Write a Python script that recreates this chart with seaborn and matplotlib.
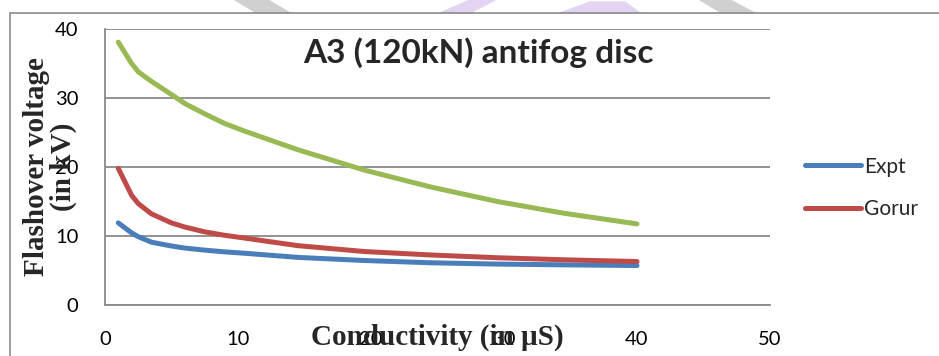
import matplotlib
matplotlib.use("Agg")
import matplotlib.pyplot as plt
from matplotlib.patches import Rectangle, Polygon
import seaborn as sns
import pandas as pd

# Conductivity (µS) and flashover voltages (kV)
conductivity = [1, 2, 2.5, 3.5, 5, 6, 7.5, 9, 10.5, 14.5, 19.5, 24.5, 29.5, 34.5, 40]
expt_kv = [11.9, 10.45, 9.9, 9.1, 8.55, 8.25, 7.95, 7.7, 7.5, 6.9, 6.45, 6.12, 5.93, 5.82, 5.72]
gorur_kv = [19.8, 15.9, 14.7, 13.2, 11.9, 11.3, 10.6, 10.1, 9.7, 8.6, 7.75, 7.25, 6.85, 6.55, 6.3]
model_kv = [38.1, 35.0, 33.8, 32.4, 30.5, 29.2, 27.7, 26.3, 25.2, 22.5, 19.55, 17.1, 15.0, 13.3, 11.75]

series_names = ["Expt", "Gorur"]
x_ticks = [0, 10, 20, 30, 40, 50]
y_ticks = [0, 10, 20, 30, 40]

df = pd.DataFrame({
    "Conductivity": conductivity * 2,
    "Voltage": expt_kv + gorur_kv,
    "Series": [series_names[0]] * len(conductivity) + [series_names[1]] * len(conductivity),
})
df_model = pd.DataFrame({"Conductivity": conductivity, "Voltage": model_kv})

sns.set_style("white")
plt.rcParams["font.family"] = ["Lato", "DejaVu Sans"]

GRID = "#8a8a8a"
fig = plt.figure(figsize=(9.39, 3.56), dpi=100)
ax = fig.add_axes([105 / 939, 1 - 305 / 356, 665 / 939, 276 / 356])

palette = {"Expt": "#4A7EBB", "Gorur": "#BE4B48"}
sns.lineplot(data=df_model, x="Conductivity", y="Voltage", color="#98B954",
             lw=3.6, ax=ax, legend=False, solid_capstyle="round", solid_joinstyle="round")
sns.lineplot(data=df, x="Conductivity", y="Voltage", hue="Series", palette=palette,
             lw=3.6, ax=ax, solid_capstyle="round", solid_joinstyle="round")

ax.set_xlim(0, 50)
ax.set_ylim(0, 40)
ax.set_xticks(x_ticks)
ax.set_yticks(y_ticks)
ax.grid(axis="y", color=GRID, lw=1.3)
ax.set_axisbelow(True)
for side in ["top", "right"]:
    ax.spines[side].set_visible(False)
for side in ["left", "bottom"]:
    ax.spines[side].set_color(GRID)
    ax.spines[side].set_linewidth(1.3)
ax.tick_params(axis="both", direction="out", length=8, width=1.3, color=GRID,
               labelsize=14.5, labelcolor="black")
ax.tick_params(axis="x", pad=11)
ax.tick_params(axis="y", pad=11)

serif = ["Liberation Serif", "DejaVu Serif"]
ax.set_xlabel("")
ax.set_ylabel("")
fig.text(437 / 939, 1 - 337 / 356, "Conductivity (in µS)", family=serif,
         fontweight="bold", fontsize=21, ha="center", va="center")
fig.text(50 / 939, 1 - 167 / 356, "Flashover voltage\n(in kV)", family=serif,
         fontweight="bold", fontsize=21, ha="center", va="center",
         rotation=90, linespacing=0.95)

ax.text(478 / 939, 1 - 53 / 356, "A3 (120kN) antifog disc", transform=fig.transFigure,
        fontweight="bold", fontsize=24, ha="center", va="center")

handles, labels = ax.get_legend_handles_labels()
for h in handles:
    h.set_linewidth(3.6)
    h.set_solid_capstyle("round")
ax.legend(handles, labels, loc="center left", bbox_to_anchor=(786 / 939, 1 - 188 / 356),
          bbox_transform=fig.transFigure, frameon=False, fontsize=15,
          handlelength=2.7, handletextpad=0.15, labelspacing=1.1)

# faint decoration above the chart frame
deco_gray = "#d0d0d0"
deco_purple = "#e2d4f2"
fig.patches.append(Polygon([[235 / 939, 1], [268 / 939, 1], [290 / 939, 1 - 13 / 356],
                            [257 / 939, 1 - 13 / 356]], closed=True, color=deco_gray,
                           transform=fig.transFigure, zorder=0))
fig.patches.append(Polygon([[700 / 939, 1], [730 / 939, 1], [755 / 939, 1 - 13 / 356],
                            [722 / 939, 1 - 13 / 356]], closed=True, color=deco_gray,
                           transform=fig.transFigure, zorder=0))
fig.patches.append(Polygon([[440 / 939, 1 - 13 / 356], [470 / 939, 1], [495 / 939, 1],
                            [470 / 939, 1 - 13 / 356]], closed=True, color=deco_purple,
                           transform=fig.transFigure, zorder=0))
fig.patches.append(Polygon([[560 / 939, 1 - 13 / 356], [590 / 939, 1 - 2 / 356],
                            [625 / 939, 1 - 2 / 356], [640 / 939, 1 - 13 / 356]],
                           closed=True, color=deco_purple,
                           transform=fig.transFigure, zorder=0))

# chart frame
fig.patches.append(Rectangle((10 / 939, -0.1), 1.0, 1.1 - 13 / 356, fill=False,
                             edgecolor=GRID, lw=1.2, transform=fig.transFigure,
                             clip_on=False, zorder=1))

fig.savefig("out.png", dpi=100)
